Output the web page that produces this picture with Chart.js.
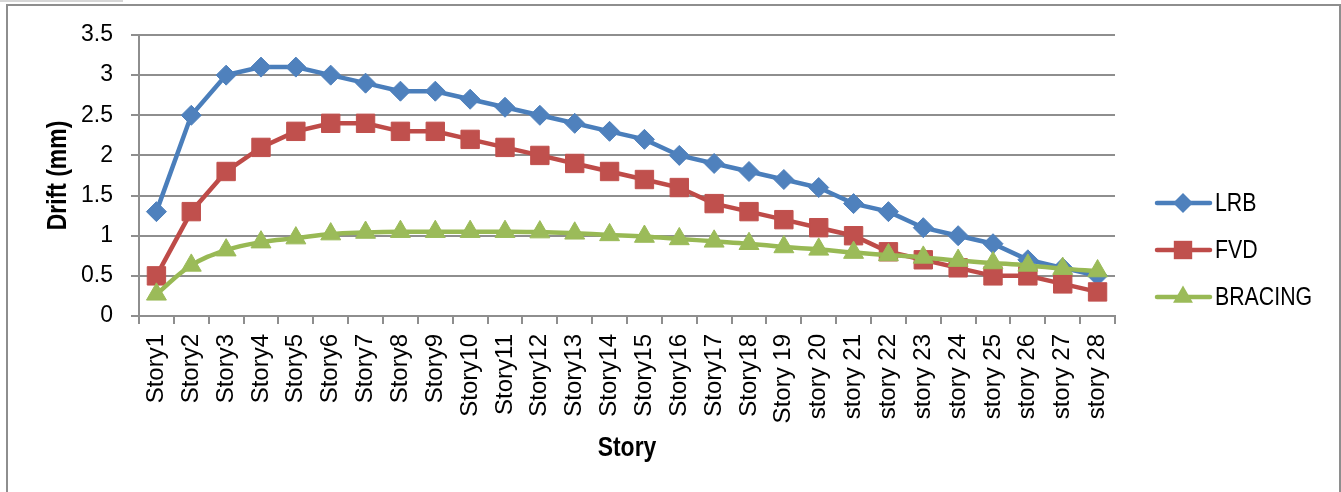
<!DOCTYPE html>
<html>
<head>
<meta charset="utf-8">
<script src="https://cdn.jsdelivr.net/npm/chart.js@4.4.1/dist/chart.umd.min.js"></script>
<style>
  html, body { margin: 0; padding: 0; background: #fff; }
  #wrap { width: 1341px; height: 492px; position: relative; }
</style>
</head>
<body>
<div id="wrap"><canvas id="c" width="1341" height="492"></canvas></div>
<script>
// Story labels along the x axis
const stories = [
  'Story1', 'Story2', 'Story3', 'Story4', 'Story5', 'Story6', 'Story7',
  'Story8', 'Story9', 'Story10', 'Story11', 'Story12', 'Story13', 'Story14',
  'Story15', 'Story16', 'Story17', 'Story18', 'Story 19', 'story 20', 'story 21',
  'story 22', 'story 23', 'story 24', 'story 25', 'story 26', 'story 27', 'story 28'
];

// Inter-story drift (mm) for each system
const lrb = [1.3, 2.5, 3.0, 3.1, 3.1, 3.0, 2.9, 2.8, 2.8, 2.7, 2.6, 2.5, 2.4, 2.3,
             2.2, 2.0, 1.9, 1.8, 1.7, 1.6, 1.4, 1.3, 1.1, 1.0, 0.9, 0.7, 0.6, 0.5];
const fvd = [0.5, 1.3, 1.8, 2.1, 2.3, 2.4, 2.4, 2.3, 2.3, 2.2, 2.1, 2.0, 1.9, 1.8,
             1.7, 1.6, 1.4, 1.3, 1.2, 1.1, 1.0, 0.8, 0.7, 0.6, 0.5, 0.5, 0.4, 0.3];
const bracing = [0.27, 0.63, 0.82, 0.92, 0.97, 1.02, 1.04, 1.05, 1.05, 1.05, 1.05, 1.045, 1.03, 1.01,
                 0.99, 0.96, 0.93, 0.90, 0.86, 0.83, 0.79, 0.76, 0.73, 0.69, 0.66, 0.63, 0.59, 0.56];

// Drift axis tick values
const driftTicks = [0, 0.5, 1, 1.5, 2, 2.5, 3, 3.5];

// Axis titles
const xTitle = 'Story';
const yTitle = 'Drift (mm)';

const REGULAR = '"Liberation Sans", Arial, sans-serif';
const GRID = '#8e8e8e';
const SQUEEZE = 0.82;   // horizontal compression for the narrow-style captions

// Outer frame of the chart object
const framePlugin = {
  id: 'frame',
  beforeDraw(chart) {
    const ctx = chart.ctx;
    ctx.save();
    ctx.fillStyle = '#fff';
    ctx.fillRect(0, 0, chart.width, chart.height);
    ctx.strokeStyle = '#d6d6d6';
    ctx.lineWidth = 2;
    ctx.beginPath(); ctx.moveTo(0, 1); ctx.lineTo(123, 1); ctx.stroke();
    ctx.strokeStyle = '#8e8e8e';
    ctx.lineWidth = 2;
    ctx.strokeRect(7, 5, 1333, 520);
    ctx.restore();
  }
};

// Draw a caption condensed along its reading direction
function narrowText(ctx, text, x, y, font, angle, align) {
  ctx.save();
  ctx.translate(x, y);
  ctx.rotate(angle);
  ctx.scale(SQUEEZE, 1);
  ctx.font = font;
  ctx.fillStyle = '#000';
  ctx.textAlign = align;
  ctx.textBaseline = 'middle';
  ctx.fillText(text, 0, 0);
  ctx.restore();
}

// Axis titles centred on the plot area
const axisTitles = {
  id: 'axisTitles',
  afterDraw(chart) {
    const ctx = chart.ctx;
    const a = chart.chartArea;
    const f = 'bold 28px ' + REGULAR;
    narrowText(ctx, xTitle, (a.left + a.right) / 2, 448, f, 0, 'center');
    narrowText(ctx, yTitle, 58, (a.top + a.bottom) / 2, f, -Math.PI / 2, 'center');
  }
};

function markerPath(ctx, style, r, x, y) {
  ctx.beginPath();
  if (style === 'rectRot') {
    ctx.moveTo(x - r, y); ctx.lineTo(x, y - r); ctx.lineTo(x + r, y); ctx.lineTo(x, y + r);
  } else if (style === 'rect') {
    const s = Math.SQRT1_2 * r;
    ctx.rect(x - s, y - s, 2 * s, 2 * s);
  } else if (style === 'triangle') {
    const a = -Math.PI / 2;
    for (let k = 0; k < 3; k++) {
      const t = a + k * 2 * Math.PI / 3;
      const px = x + Math.cos(t) * r, py = y + Math.sin(t) * r;
      if (k === 0) ctx.moveTo(px, py); else ctx.lineTo(px, py);
    }
  }
  ctx.closePath();
}

// Legend to the right: line sample with its marker, then the label
const sideLegend = {
  id: 'sideLegend',
  afterDraw(chart) {
    const ctx = chart.ctx;
    const rowY = [203, 250, 297];
    chart.data.datasets.forEach((ds, i) => {
      const y = rowY[i];
      ctx.save();
      ctx.strokeStyle = ds.borderColor;
      ctx.lineWidth = ds.borderWidth;
      ctx.lineCap = 'round';
      ctx.beginPath(); ctx.moveTo(1157, y); ctx.lineTo(1210, y); ctx.stroke();
      ctx.fillStyle = ds.pointBackgroundColor;
      markerPath(ctx, ds.pointStyle, ds.pointRadius, 1183, y);
      ctx.fill();
      ctx.restore();
      narrowText(ctx, ds.label, 1215, y + 1, '26px ' + REGULAR, 0, 'left');
    });
  }
};

new Chart(document.getElementById('c'), {
  type: 'line',
  data: {
    labels: stories,
    datasets: [
      {
        label: 'LRB', data: lrb, order: 2,
        borderColor: '#4a7ebb', borderWidth: 4.5, tension: 0,
        pointStyle: 'rectRot', pointRadius: 10,
        pointBackgroundColor: '#4f81bd', pointBorderColor: '#4f81bd', pointBorderWidth: 1
      },
      {
        label: 'FVD', data: fvd, order: 1,
        borderColor: '#be4b48', borderWidth: 4.5, tension: 0,
        pointStyle: 'rect', pointRadius: 13,
        pointBackgroundColor: '#c0504d', pointBorderColor: '#c0504d', pointBorderWidth: 1
      },
      {
        label: 'BRACING', data: bracing, order: 0,
        borderColor: '#98b954', borderWidth: 4.5, tension: 0.4,
        pointStyle: 'triangle', pointRadius: 11.5,
        pointBackgroundColor: '#9bbb59', pointBorderColor: '#9bbb59', pointBorderWidth: 1
      }
    ]
  },
  options: {
    responsive: false,
    animation: false,
    devicePixelRatio: 1,
    layout: { padding: { top: 35, right: 226, bottom: 0, left: 0 } },
    plugins: { legend: { display: false }, tooltip: { enabled: false } },
    scales: {
      x: {
        offset: true,
        grid: { offset: true, drawOnChartArea: false, drawTicks: true, tickLength: 8, color: GRID, lineWidth: 2 },
        border: { color: GRID, width: 2 },
        ticks: {
          autoSkip: false, maxRotation: 90, minRotation: 90, padding: 10,
          color: '#000', font: { family: REGULAR, size: 24 }
        },
        afterFit(scale) { scale.height = 176; }
      },
      y: {
        min: 0, max: 3.5,
        afterBuildTicks(scale) { scale.ticks = driftTicks.map(v => ({ value: v })); },
        grid: { color: GRID, lineWidth: 2, drawTicks: true, tickLength: 8 },
        border: { color: GRID, width: 2 },
        ticks: {
          padding: 18, color: '#000', font: { family: REGULAR, size: 23 },
          callback: (v) => String(v)
        },
        afterFit(scale) { scale.width = 139; }
      }
    }
  },
  plugins: [framePlugin, axisTitles, sideLegend]
});
</script>
</body>
</html>
